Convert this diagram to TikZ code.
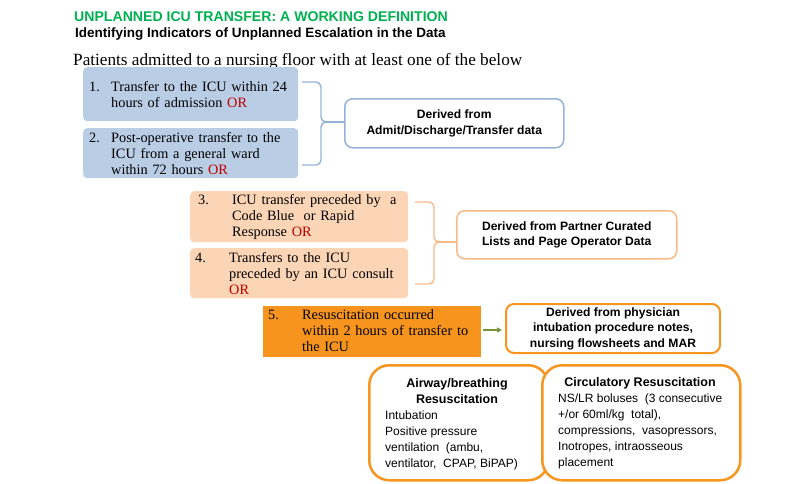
\documentclass[tikz,border=0pt]{standalone}
\usepackage{fontspec}
\setmainfont{Liberation Serif}
\setsansfont{Liberation Sans}
\usetikzlibrary{arrows.meta}
\definecolor{titlegreen}{RGB}{0,176,80}
\definecolor{bluefill}{RGB}{185,205,229}
\definecolor{blueline}{RGB}{149,179,215}
\definecolor{peachfill}{RGB}{251,213,181}
\definecolor{peachline}{RGB}{248,186,135}
\definecolor{orangefill}{RGB}{247,148,29}
\definecolor{resorange}{RGB}{247,150,30}
\definecolor{orred}{RGB}{192,0,0}
\definecolor{arrowgreen}{RGB}{119,147,60}
\newcommand\orword{\textcolor{orred}{OR}}
\begin{document}
\begin{tikzpicture}[x=1pt,y=-1pt,
  itembox/.style={anchor=north west, rounded corners=4pt, inner xsep=5pt, inner ysep=0pt,
    align=left, font=\fontsize{14.3}{16}\selectfont},
  derived/.style={draw, fill=white, rounded corners=8pt, align=center, inner sep=0pt,
    font=\sffamily\bfseries\fontsize{12.1}{15.5}\selectfont, line width=1.5pt, anchor=north west},
  resbox/.style={draw=resorange, fill=white, line width=2.5pt, rounded corners=20pt,
    anchor=north west, inner sep=0pt},
  restitle/.style={inner sep=0pt, font=\sffamily\bfseries\fontsize{12.5}{16}\selectfont, align=center, anchor=base},
  restext/.style={inner sep=0pt, font=\sffamily\fontsize{12}{16}\selectfont, align=left, anchor=base west},
  brace/.style={line width=1.4pt, rounded corners=5pt}
]
\useasboundingbox (0,0) rectangle (800,483);

% headings
\node[anchor=base west, inner sep=0pt, font=\sffamily\bfseries\fontsize{14.1}{17}\selectfont, text=titlegreen] (title) at (74,21) {UNPLANNED ICU TRANSFER: A WORKING DEFINITION};
\node[anchor=base west, inner sep=0pt, font=\sffamily\bfseries\fontsize{13.5}{15}\selectfont] (subtitle) at (75,37) {Identifying Indicators of Unplanned Escalation in the Data};
\node[anchor=base west, inner sep=0pt, font=\fontsize{17.2}{20}\selectfont] (intro) at (73,65) {Patients admitted to a nursing floor with at least one of the below};

% items 1-2
\node[itembox, fill=bluefill, minimum width=215pt, minimum height=54pt, text width=205pt] (b1) at (83,67)
  {\hspace*{1pt}\makebox[22pt][l]{1.}Transfer to the ICU within 24\\\hspace*{23pt}hours of admission \orword};
\node[itembox, fill=bluefill, minimum width=215pt, minimum height=50pt, text width=205pt] (b2) at (83,128)
  {\hspace*{1pt}\makebox[22pt][l]{2.}Post-operative transfer to the\\\hspace*{23pt}ICU from a general ward\\\hspace*{23pt}within 72 hours \orword};

% items 3-4
\node[itembox, fill=peachfill, minimum width=218pt, minimum height=51pt, text width=208pt] (b3) at (190,191)
  {\hspace*{3pt}\makebox[34pt][l]{3.}ICU transfer preceded by\ \ a\\\hspace*{37pt}Code Blue\ \ or Rapid\\\hspace*{37pt}Response \orword};
\node[itembox, fill=peachfill, minimum width=218pt, minimum height=50pt, text width=208pt] (b4) at (190,248)
  {\makebox[34pt][l]{4.}Transfers to the ICU\\\hspace*{34pt}preceded by an ICU consult\\\hspace*{34pt}\orword};

% item 5
\node[itembox, fill=orangefill, rounded corners=0pt, minimum width=218pt, minimum height=51pt, text width=208pt] (b5) at (263,306)
  {\mbox{}\\[-9pt]\makebox[34pt][l]{5.}Resuscitation occurred\\\hspace*{34pt}within 2 hours of transfer to\\\hspace*{34pt}the ICU};

% derived boxes
\node[derived, draw=blueline, minimum width=219pt, minimum height=49pt] (d1) at (344,98)
  {Derived from\\Admit/Discharge/Transfer data};
\node[derived, draw=peachline, minimum width=220pt, minimum height=48pt] (d2) at (456,210)
  {Derived from Partner Curated\\Lists and Page Operator Data};
\node[derived, draw=resorange, line width=2pt, minimum width=214pt, minimum height=49pt] (d3) at (505,303)
  {Derived from physician\\intubation procedure notes,\\nursing flowsheets and MAR};

% braces
\coordinate (btip) at (326,122);
\draw[brace, draw=blueline] (302,82) -- (321,82) -- (321,122) -- (btip);
\draw[brace, draw=blueline] (302,165) -- (321,165) -- (321,122) -- (btip);
\draw[line width=1.4pt, draw=blueline] (btip) -- (btip -| d1.west);

\coordinate (otip) at (439,242);
\draw[brace, draw=peachline] (415,202) -- (434,202) -- (434,242) -- (otip);
\draw[brace, draw=peachline] (415,284) -- (434,284) -- (434,242) -- (otip);
\draw[line width=1.4pt, draw=peachline] (otip) -- (otip -| d2.west);

% arrow
\draw[arrowgreen, line width=1.5pt, -{Triangle[length=5pt,width=5pt]}, shorten <=2pt, shorten >=3pt] (b5.east |- 0,330) -- (d3.west |- 0,330);

% resuscitation boxes
\node[resbox, minimum width=179pt, minimum height=115pt] (air) at (368,364) {};
\node[resbox, minimum width=198pt, minimum height=115pt] (circ) at (541,364) {};
\node[restitle] (airt) at (457,403) {Airway/breathing\\Resuscitation};
\node[restext] (airb) at (385,467) {Intubation\\Positive pressure\\ventilation\ \ (ambu,\\ventilator,\ \ CPAP, BiPAP)};
\node[restitle] (circt) at (640,386) {Circulatory Resuscitation};
\node[restext] (circb) at (558,466) {NS/LR boluses\ \ (3 consecutive\\+/or 60ml/kg\ \ total),\\compressions,\ \ vasopressors,\\Inotropes, intraosseous\\placement};
\end{tikzpicture}
\end{document}
